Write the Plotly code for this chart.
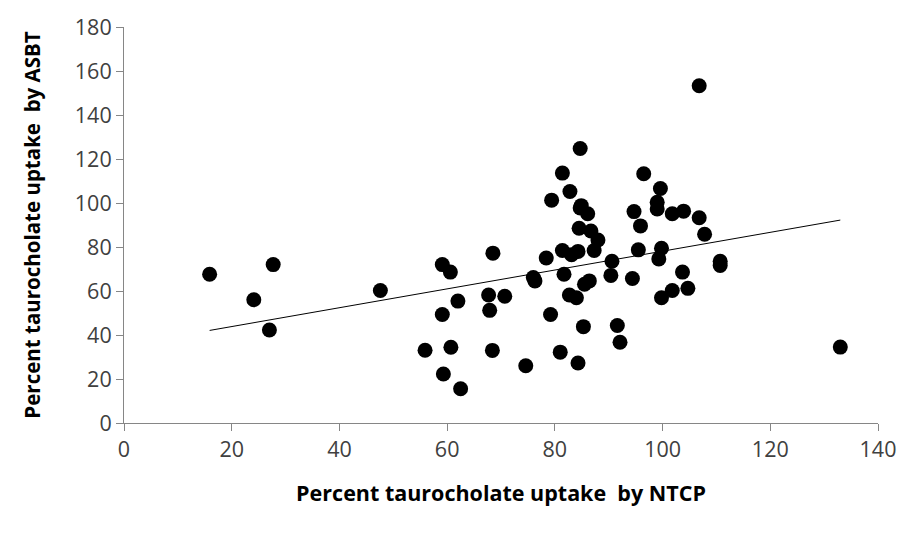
import numpy as np
import plotly.graph_objects as go

# Percent taurocholate uptake by NTCP (x) and by ASBT (y)
ntcp = [15.9, 24.1, 27.7, 27.0, 47.6,
        59.1, 60.6, 59.1, 62.0, 60.7, 55.9, 59.3, 62.5,
        68.5, 67.7, 67.9, 68.4, 70.7, 74.6,
        78.4, 79.4, 79.2, 76.0, 76.3,
        81.4, 82.8, 81.4, 81.7, 81.0, 83.1, 82.7, 84.0, 84.3,
        84.7, 84.7, 84.9, 84.5, 84.3, 86.1, 86.7, 88.0, 87.3,
        85.5, 86.4, 85.3,
        90.6, 90.4, 91.6, 92.1,
        94.7, 94.4, 96.5, 95.9, 95.5,
        99.6, 99.0, 99.0, 99.8, 99.3, 99.8,
        101.8, 101.8, 103.9, 103.7, 104.7,
        106.8, 106.8, 107.8, 110.7, 110.7, 133.0]
asbt = [67.6, 56.0, 72.0, 42.3, 60.2,
        72.0, 68.6, 49.3, 55.4, 34.4, 33.1, 22.3, 15.6,
        77.2, 58.2, 51.2, 33.0, 57.6, 26.0,
        75.0, 101.3, 49.3, 66.1, 64.6,
        113.6, 105.2, 78.4, 67.6, 32.2, 76.5, 58.2, 56.9, 27.3,
        124.8, 97.7, 98.8, 88.5, 78.0, 95.1, 87.3, 83.2, 78.4,
        63.1, 64.6, 43.8,
        73.5, 67.1, 44.3, 36.7,
        96.1, 65.7, 113.3, 89.6, 78.7,
        106.6, 100.3, 97.3, 79.4, 74.6, 56.9,
        95.1, 60.2, 96.3, 68.6, 61.2,
        153.3, 93.3, 85.8, 73.5, 71.6, 34.5]

x_ticks = [0, 20, 40, 60, 80, 100, 120, 140]
y_ticks = [0, 20, 40, 60, 80, 100, 120, 140, 160, 180]

x_title = "Percent taurocholate uptake\u00a0 by NTCP"
y_title = "Percent taurocholate uptake\u00a0 by ASBT"

# linear trendline fitted to the data
slope, intercept = np.polyfit(ntcp, asbt, 1)
tx = np.array([min(ntcp), max(ntcp)])
ty = slope * tx + intercept

fig = go.Figure()
fig.add_trace(go.Scatter(x=tx, y=ty, mode="lines",
                         line=dict(color="#000000", width=1),
                         showlegend=False, hoverinfo="skip"))
fig.add_trace(go.Scatter(x=ntcp, y=asbt, mode="markers",
                         marker=dict(color="#000000", size=15, line=dict(width=0)),
                         showlegend=False))

axis_common = dict(showgrid=False, zeroline=False, showline=True,
                   linecolor="#868686", linewidth=1, ticks="outside",
                   tickcolor="#868686", ticklen=7, tickwidth=1,
                   ticklabeloverflow="allow",
                   tickfont=dict(family="Open Sans", size=21.5, color="#404040"))

fig.update_xaxes(range=[0, 140], tickvals=x_ticks, ticktext=[str(v) for v in x_ticks],
                 title=dict(text="<b>" + x_title + "</b>", standoff=24,
                            font=dict(family="Open Sans", size=21.5, color="#000000")),
                 **axis_common)
fig.update_yaxes(range=[0, 180], tickvals=y_ticks, ticktext=[str(v) for v in y_ticks],
                 title=dict(text="<b>" + y_title + "</b>", standoff=28,
                            font=dict(family="Open Sans", size=20.5, color="#000000")),
                 **axis_common)

fig.update_layout(width=908, height=536, margin=dict(l=124, r=25, t=19, b=113),
                  plot_bgcolor="white", paper_bgcolor="white")

fig.write_html("out.html")
